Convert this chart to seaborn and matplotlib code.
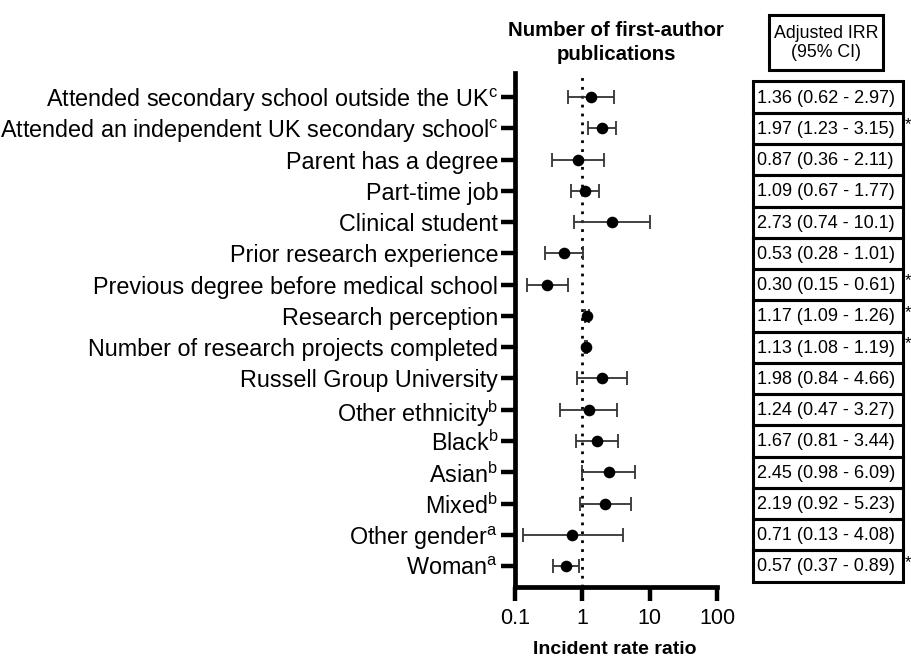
import matplotlib
matplotlib.use("Agg")
import matplotlib.pyplot as plt
import seaborn as sns
import pandas as pd
from matplotlib.patches import Rectangle

labels = [
    "Attended secondary school outside the UK$^{\\mathregular{c}}$",
    "Attended an independent UK secondary school$^{\\mathregular{c}}$",
    "Parent has a degree",
    "Part-time job",
    "Clinical student",
    "Prior research experience",
    "Previous degree before medical school",
    "Research perception",
    "Number of research projects completed",
    "Russell Group University",
    "Other ethnicity$^{\\mathregular{b}}$",
    "Black$^{\\mathregular{b}}$",
    "Asian$^{\\mathregular{b}}$",
    "Mixed$^{\\mathregular{b}}$",
    "Other gender$^{\\mathregular{a}}$",
    "Woman$^{\\mathregular{a}}$",
]
irr = [1.36, 1.97, 0.87, 1.09, 2.73, 0.53, 0.30, 1.17, 1.13, 1.98, 1.24, 1.67, 2.45, 2.19, 0.71, 0.57]
ci_lo = [0.62, 1.23, 0.36, 0.67, 0.74, 0.28, 0.15, 1.09, 1.08, 0.84, 0.47, 0.81, 0.98, 0.92, 0.13, 0.37]
ci_hi = [2.97, 3.15, 2.11, 1.77, 10.1, 1.01, 0.61, 1.26, 1.19, 4.66, 3.27, 3.44, 6.09, 5.23, 4.08, 0.89]
table_text = [
    "1.36 (0.62 - 2.97)", "1.97 (1.23 - 3.15)", "0.87 (0.36 - 2.11)", "1.09 (0.67 - 1.77)",
    "2.73 (0.74 - 10.1)", "0.53 (0.28 - 1.01)", "0.30 (0.15 - 0.61)", "1.17 (1.09 - 1.26)",
    "1.13 (1.08 - 1.19)", "1.98 (0.84 - 4.66)", "1.24 (0.47 - 3.27)", "1.67 (0.81 - 3.44)",
    "2.45 (0.98 - 6.09)", "2.19 (0.92 - 5.23)", "0.71 (0.13 - 4.08)", "0.57 (0.37 - 0.89)",
]
significant = [False, True, False, False, False, False, True, True, True, False, False, False, False, False, False, True]
x_ticks = [0.1, 1, 10, 100]
x_ticklabels = ["0.1", "1", "10", "100"]

sns.set_style("ticks")
plt.rcParams["font.family"] = ["Liberation Sans", "DejaVu Sans"]
plt.rcParams["mathtext.fontset"] = "custom"
plt.rcParams["mathtext.rm"] = "Liberation Sans"
plt.rcParams["mathtext.it"] = "Liberation Sans"
for k in ["text.color", "axes.labelcolor", "xtick.color", "ytick.color", "xtick.labelcolor", "ytick.labelcolor"]:
    plt.rcParams[k] = "black"

df = pd.DataFrame({"label": labels, "irr": irr, "lo": ci_lo, "hi": ci_hi})
df["pos"] = range(len(df))

W, H = 912, 659
fig = plt.figure(figsize=(W / 100, H / 100), dpi=100)
ax = fig.add_axes([515 / W, 1 - 587 / H, (717 - 515) / W, (587 - 73) / H])

ax.errorbar(df["irr"], df["pos"],
            xerr=[df["irr"] - df["lo"], df["hi"] - df["irr"]],
            fmt="none", ecolor="#333333", elinewidth=1.3, capsize=5, capthick=1.3, zorder=2)
sns.scatterplot(data=df, x="irr", y="pos", ax=ax, color="black", s=70,
                edgecolor="black", linewidth=0, zorder=3, legend=False)
ax.axvline(1, color="black", linestyle=(0, (1, 2.2)), linewidth=2, zorder=1)

ax.set_xscale("log")
ax.set_xlim(0.1, 100)
ax.set_ylim(len(df) - 1 + 0.67, -0.77)
ax.set_xticks(x_ticks)
ax.set_xticklabels(x_ticklabels)
ax.minorticks_off()
ax.set_yticks(df["pos"])
ax.set_yticklabels(df["label"])
ax.tick_params(axis="both", length=10, width=3.2, color="black")
ax.tick_params(axis="y", labelsize=16.8, pad=2)
ax.tick_params(axis="x", labelsize=15.5, pad=5)
for s in ["left", "bottom"]:
    ax.spines[s].set_linewidth(3.4)
    ax.spines[s].set_color("black")
sns.despine(ax=ax)
ax.set_xlabel("")
ax.set_ylabel("")
ax.set_title("Number of first-author\npublications", fontsize=14.7, fontweight="bold", pad=9, linespacing=1.35)
fig.text(615 / W, 1 - 649 / H, "Incident rate ratio", fontsize=14, fontweight="bold", ha="center", va="center")

# table
tx = fig.add_axes([753 / W, 1 - 587 / H, (903 - 753) / W, (587 - 73) / H])
tx.set_xlim(0, 1)
tx.set_ylim(len(df) - 1 + 0.67, -0.77)
tx.axis("off")
star_x = (911 - 753) / (903 - 753)
for i, (t, sig) in enumerate(zip(table_text, significant)):
    tx.add_patch(Rectangle((0, i - 0.5), 1, 1, fill=False, edgecolor="black", linewidth=2.2, clip_on=False))
    tx.text(0.025, i + 0.03, t, fontsize=13, va="center", ha="left")
    if sig:
        tx.text(star_x, i - 0.12, "*", fontsize=12, va="center", ha="right", clip_on=False)

fig.add_artist(Rectangle((769 / W, 1 - 70 / H), (883 - 769) / W, 55 / H, transform=fig.transFigure,
                         fill=False, edgecolor="black", linewidth=2.2))
fig.text(826 / W, 1 - 43 / H, "Adjusted IRR\n(95% CI)", fontsize=12.8, ha="center", va="center",
         linespacing=1.15)

fig.savefig("out.png", dpi=100)
